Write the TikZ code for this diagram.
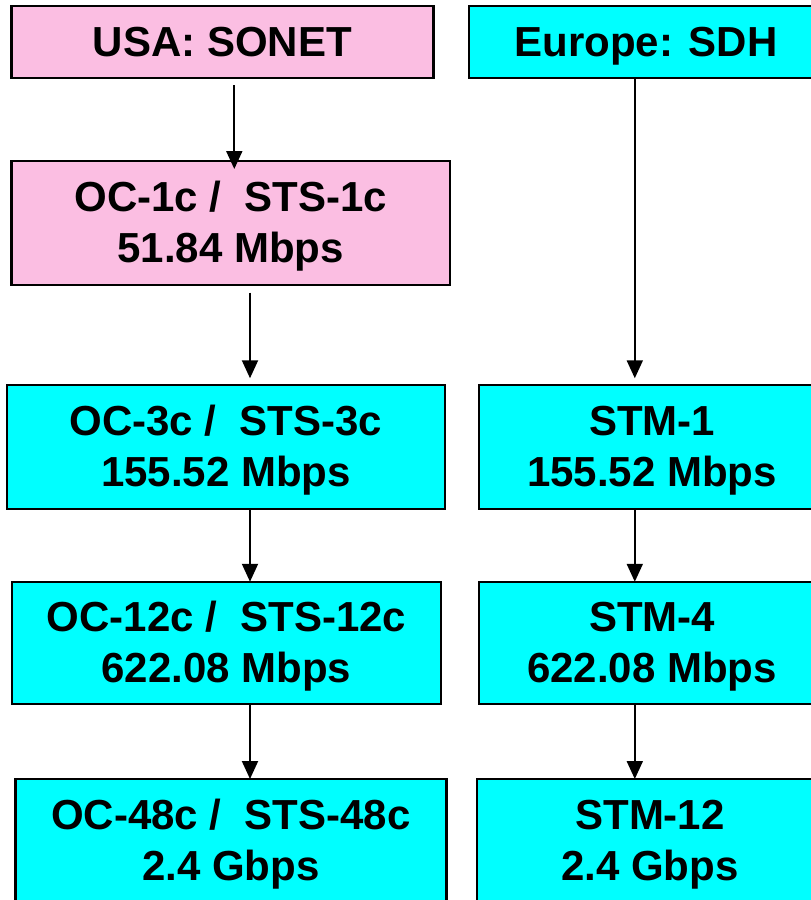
\documentclass[tikz,border=0pt]{standalone}
\usepackage{fontspec}
\setmainfont{Liberation Sans}
\usetikzlibrary{arrows.meta}
\definecolor{sonetpink}{RGB}{251,190,226}
\definecolor{sdhcyan}{RGB}{0,255,255}
% one line of box text, vertically sized to its capitals only
\newcommand\capline[1]{\vphantom{H}\smash{#1}}

\begin{document}
\begin{tikzpicture}[x=1pt,y=-1pt,
  box/.style={draw=black, line width=2.4pt, rectangle, inner sep=0pt, outer sep=0pt,
    align=center, font=\fontsize{42}{51}\selectfont\bfseries},
  sonet/.style={box, fill=sonetpink},
  sdh/.style={box, fill=sdhcyan},
  link/.style={line width=2pt, -{Triangle[length=18pt,width=16pt]}}]

\useasboundingbox (0,0) rectangle (811,900);
\clip (0,0) rectangle (811,900);

% headers
\node[sonet, minimum width=422pt, minimum height=72pt] (usa) at (222.5,42) {\capline{USA: SONET}};
\node[sdh, minimum width=354pt, minimum height=72pt] (eur) at (646,42) {\capline{Europe: SDH}};

% SONET column
\node[sonet, minimum width=438.5pt, minimum height=124pt] (oc1) at (230.75,223)
  {\capline{OC-1c /\ \ STS-1c}\\\capline{51.84 Mbps}};
\node[sdh, minimum width=438pt, minimum height=123.5pt] (oc3) at (226,447)
  {\capline{OC-3c /\ \ STS-3c}\\\capline{155.52 Mbps}};
\node[sdh, minimum width=429pt, minimum height=122.5pt] (oc12) at (226.5,643)
  {\capline{OC-12c /\ \ STS-12c}\\\capline{622.08 Mbps}};
\node[sdh, minimum width=431pt, minimum height=123pt] (oc48) at (231,840.5)
  {\capline{OC-48c /\ \ STS-48c}\\\capline{2.4 Gbps}};

% SDH column
\node[sdh, minimum width=346pt, minimum height=123.5pt] (stm1) at (652,447)
  {\capline{STM-1}\\\capline{155.52 Mbps}};
\node[sdh, minimum width=346pt, minimum height=122.5pt] (stm4) at (652,643)
  {\capline{STM-4}\\\capline{622.08 Mbps}};
\node[sdh, minimum width=346pt, minimum height=123pt] (stm12) at (650,840.5)
  {\capline{STM-12}\\\capline{2.4 Gbps}};

% arrow columns
\coordinate (ax1) at (234.3,0);
\coordinate (ax2) at (250,0);
\coordinate (axr) at (634.8,0);

\draw[link, shorten <=7pt, shorten >=-8pt] (usa.south -| ax1) -- (oc1.north -| ax1);
\draw[link, shorten <=7.7pt, shorten >=7pt] (oc1.south -| ax2) -- (oc3.north -| ax2);
\draw[link, shorten >=7pt] (eur.south -| axr) -- (stm1.north -| axr);
\draw[link] (oc3.south -| ax2) -- (oc12.north -| ax2);
\draw[link] (stm1.south -| axr) -- (stm4.north -| axr);
\draw[link] (oc12.south -| ax2) -- (oc48.north -| ax2);
\draw[link] (stm4.south -| axr) -- (stm12.north -| axr);
\end{tikzpicture}
\end{document}
